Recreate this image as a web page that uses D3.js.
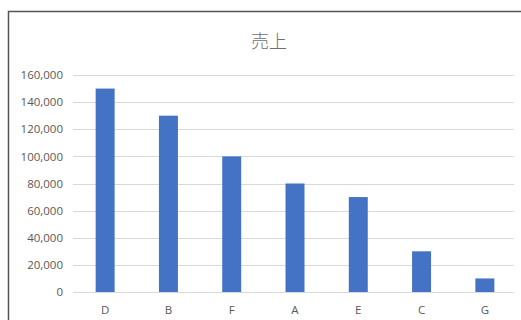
<html>
<head>
<meta charset="utf-8">
<title>売上</title>
<style>
  body { margin: 0; background: #fff; }
  text { font-family: "Noto Sans CJK JP", "Open Sans", sans-serif; }
</style>
</head>
<body>
<script src="https://d3js.org/d3.v7.min.js"></script>
<script>
var width = 521,
    height = 320;

var categories = ["D", "B", "F", "A", "E", "C", "G"];
var sales = [150000, 130000, 100000, 80000, 70000, 30000, 10000];
var yTicks = [0, 20000, 40000, 60000, 80000, 100000, 120000, 140000, 160000];

var data = categories.map(function(c, i) { return {name: c, value: sales[i]}; });

var svg = d3.select("body").append("svg")
    .attr("width", width)
    .attr("height", height);

// chart frame (only top and left edges show in the picture)
svg.append("rect")
    .attr("x", 8.5).attr("y", 11.5)
    .attr("width", 600).attr("height", 400)
    .attr("fill", "none")
    .attr("stroke", "#555")
    .attr("stroke-width", 1.5);

svg.append("text")
    .attr("x", 269).attr("y", 48)
    .attr("text-anchor", "middle")
    .attr("font-size", "18px")
    .attr("font-weight", 300)
    .attr("fill", "#707070")
    .text("売上");

var x = d3.scaleBand()
    .domain(categories)
    .range([73.5, 516.5])
    .paddingInner(0.7)
    .paddingOuter(0.35);

var y = d3.scaleLinear()
    .domain([0, 160000])
    .range([292, 75]);

var fmt = d3.format(",");

// gridlines
svg.append("g").selectAll("line")
    .data(yTicks)
    .enter().append("line")
    .attr("x1", 73).attr("x2", 514)
    .attr("y1", function(d) { return Math.round(y(d)) + 0.5; })
    .attr("y2", function(d) { return Math.round(y(d)) + 0.5; })
    .attr("stroke", "#d9d9d9")
    .attr("stroke-width", 1);

// y axis labels
var yAxis = d3.axisLeft(y).tickValues(yTicks).tickFormat(fmt).tickSize(0).tickPadding(0);
var gy = svg.append("g").attr("transform", "translate(63,0)").call(yAxis);
gy.select(".domain").remove();
gy.selectAll("text")
    .attr("font-size", "11.5px")
    .attr("fill", "#595959")
    .style("font-family", "'Open Sans', sans-serif");

// bars
svg.append("g").selectAll("rect")
    .data(data)
    .enter().append("rect")
    .attr("x", function(d) { return x(d.name); })
    .attr("width", x.bandwidth())
    .attr("y", function(d) { return y(d.value); })
    .attr("height", function(d) { return y(0) - y(d.value); })
    .attr("fill", "#4472C4");

// x axis labels
var xAxis = d3.axisBottom(x).tickSize(0).tickPadding(0);
var gx = svg.append("g").attr("transform", "translate(0,306)").call(xAxis);
gx.select(".domain").remove();
gx.selectAll("text")
    .attr("font-size", "11.5px")
    .attr("fill", "#595959")
    .style("font-family", "'Open Sans', sans-serif");
</script>
</body>
</html>
